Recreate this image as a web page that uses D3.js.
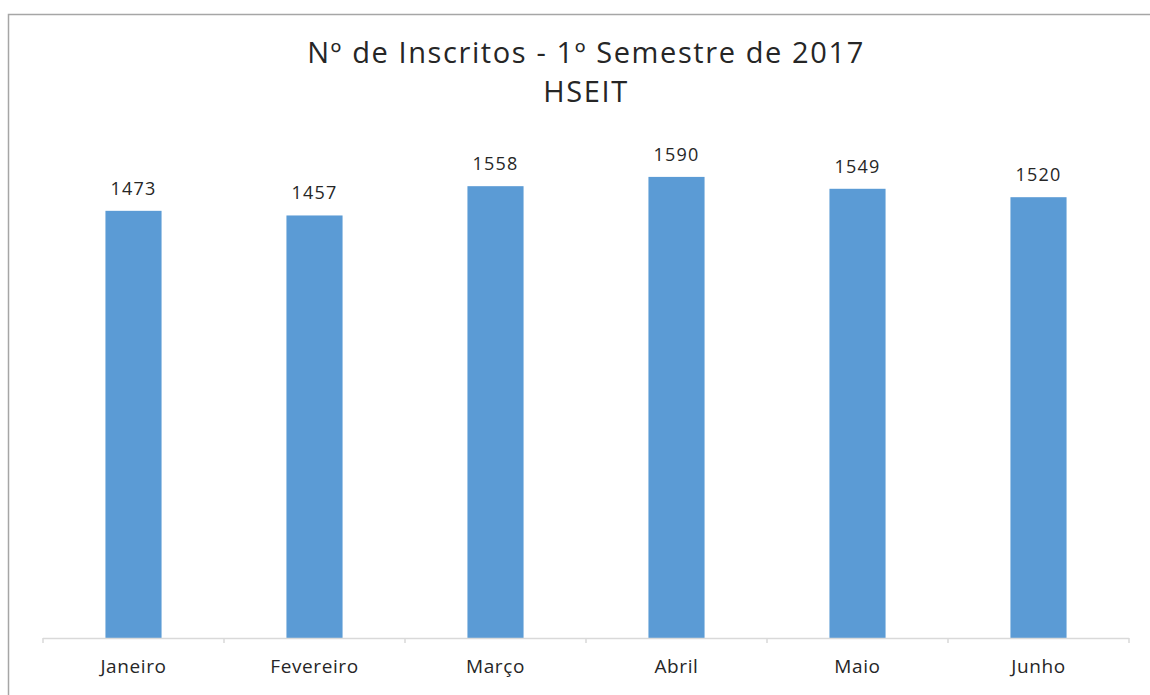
<!DOCTYPE html>
<html>
<head>
<meta charset="utf-8">
<script src="https://cdn.jsdelivr.net/npm/d3@7"></script>
<style>
  body { margin: 0; background: #fff; }
  text { font-family: "Open Sans", "Noto Sans", sans-serif; fill: #262626; }
</style>
</head>
<body>
<div id="chart"></div>
<script>
const months = ["Janeiro", "Fevereiro", "Março", "Abril", "Maio", "Junho"];
const inscritos = [1473, 1457, 1558, 1590, 1549, 1520];
const titleLines = ["Nº de Inscritos - 1º Semestre de 2017", "HSEIT"];

const width = 1150;
const height = 695;

const svg = d3.select("#chart")
  .append("svg")
  .attr("width", width)
  .attr("height", height);

// chart frame (only left and top edges show in the picture)
svg.append("path")
  .attr("d", "M8.5,695 L8.5,14.5 L1150,14.5")
  .attr("fill", "none")
  .attr("stroke", "#a6a6a6")
  .attr("stroke-width", 1.5);

const x = d3.scaleBand()
  .domain(months)
  .range([43, 1129])
  .paddingInner(0)
  .paddingOuter(0);

const y = d3.scaleLinear()
  .domain([0, 1800])
  .range([638, 116]);

const barW = x.bandwidth() * 0.31;

svg.append("g")
  .selectAll("rect")
  .data(months)
  .join("rect")
  .attr("x", d => x(d) + (x.bandwidth() - barW) / 2)
  .attr("y", (d, i) => y(inscritos[i]))
  .attr("width", barW)
  .attr("height", (d, i) => y(0) - y(inscritos[i]))
  .attr("fill", "#5b9bd5");

// category axis
const axis = svg.append("g")
  .attr("transform", `translate(0,${y(0)})`)
  .call(d3.axisBottom(x).tickSize(0).tickPadding(0));
axis.select(".domain").remove();
axis.selectAll("text").remove();

axis.append("line")
  .attr("x1", x.range()[0]).attr("x2", x.range()[1])
  .attr("y1", 0.5).attr("y2", 0.5)
  .attr("stroke", "#d9d9d9")
  .attr("stroke-width", 1.5);

const edges = months.map(m => x(m)).concat([x.range()[1]]);
axis.selectAll("line.tick-mark")
  .data(edges)
  .join("line")
  .attr("class", "tick-mark")
  .attr("x1", d => d).attr("x2", d => d)
  .attr("y1", 0).attr("y2", 5)
  .attr("stroke", "#d9d9d9")
  .attr("stroke-width", 1.5);

svg.append("g")
  .selectAll("text")
  .data(months)
  .join("text")
  .attr("x", d => x(d) + x.bandwidth() / 2)
  .attr("y", 673)
  .attr("text-anchor", "middle")
  .attr("font-size", 19)
  .attr("letter-spacing", 0.6)
  .text(d => d);

// value labels
svg.append("g")
  .selectAll("text")
  .data(months)
  .join("text")
  .attr("x", d => x(d) + x.bandwidth() / 2)
  .attr("y", (d, i) => y(inscritos[i]) - 16)
  .attr("text-anchor", "middle")
  .attr("font-size", 18)
  .attr("letter-spacing", 1.2)
  .text((d, i) => inscritos[i]);

// title
svg.append("g")
  .selectAll("text")
  .data(titleLines)
  .join("text")
  .attr("x", 586)
  .attr("y", (d, i) => 63 + i * 39)
  .attr("text-anchor", "middle")
  .attr("font-size", 29)
  .attr("letter-spacing", 1.6)
  .text(d => d);
</script>
</body>
</html>
